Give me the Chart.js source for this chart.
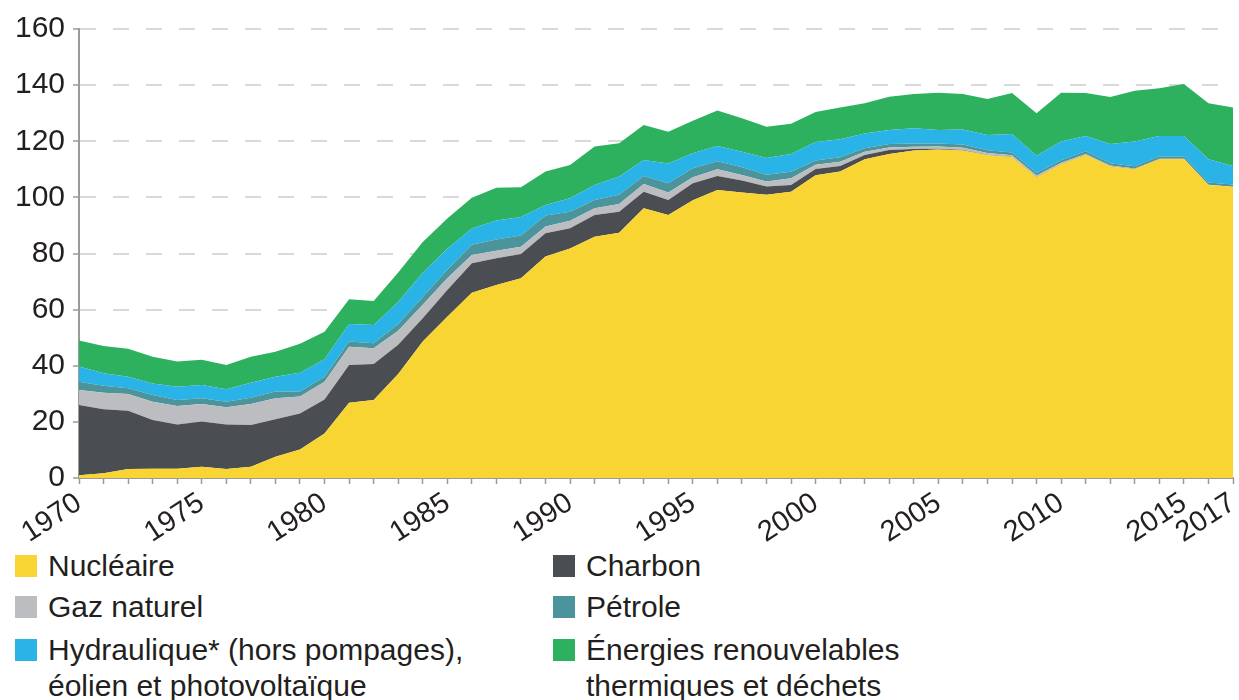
<!DOCTYPE html>
<html lang="fr">
<head>
<meta charset="utf-8">
<title>Production nationale d'énergie primaire</title>
<script src="https://cdn.jsdelivr.net/npm/chart.js@4.4.1/dist/chart.umd.min.js"></script>
<style>
  body { margin: 0; background: #fff; font-family: "Liberation Sans", Arial, sans-serif; color: #231f20; }
  #wrap { position: relative; width: 1239px; height: 700px; }
  #chartBox { position: absolute; left: 0; top: 0; width: 1239px; height: 548px; }
  .item { position: absolute; font-size: 30px; line-height: 36px; }
  .item .sq { position: absolute; left: 0; top: 7px; width: 22px; height: 22px; }
  .item .txt { position: absolute; left: 33px; top: 0; white-space: nowrap; }
</style>
</head>
<body>
<div id="wrap">
  <div id="chartBox"><canvas id="energyChart"></canvas></div>
  <div id="legend"></div>
</div>
<script>
const years = [
  "1970", "1971", "1972", "1973", "1974", "1975", "1976", "1977", "1978", "1979",
  "1980", "1981", "1982", "1983", "1984", "1985", "1986", "1987", "1988", "1989",
  "1990", "1991", "1992", "1993", "1994", "1995", "1996", "1997", "1998", "1999",
  "2000", "2001", "2002", "2003", "2004", "2005", "2006", "2007", "2008", "2009",
  "2010", "2011", "2012", "2013", "2014", "2015", "2016", "2017"
];
const shownYears = ["1970", "1975", "1980", "1985", "1990", "1995", "2000", "2005", "2010", "2015", "2017"];
const yTicks = [0, 20, 40, 60, 80, 100, 120, 140, 160];

const nucleaire = [
  1.0, 1.7, 3.2, 3.3, 3.3, 4.0, 3.2, 4.0, 7.6, 10.2,
  15.9, 26.8, 27.8, 37.1, 48.6, 57.5, 66.0, 68.8, 71.2, 78.9,
  81.8, 86.0, 87.4, 96.1, 93.7, 99.0, 102.6, 101.7, 100.9, 102.0,
  107.9, 109.2, 113.6, 115.5, 116.7, 117.1, 116.7, 115.0, 114.3, 107.2,
  111.8, 115.1, 111.0, 110.0, 113.6, 113.7, 104.4, 103.8
];
const charbon = [
  25.0, 22.8, 20.8, 17.4, 15.8, 16.1, 15.9, 14.9, 13.3, 12.8,
  12.1, 13.5, 12.8, 10.4, 8.3, 9.5, 10.5, 9.5, 8.6, 8.3,
  7.2, 7.7, 7.5, 5.9, 5.4, 6.0, 5.0, 4.3, 3.0, 2.4,
  2.2, 2.0, 1.5, 1.4, 0.5, 0.2, 0.2, 0.1, 0.1, 0.1,
  0.1, 0.1, 0.1, 0.1, 0.1, 0.0, 0.0, 0.0
];
const gazNaturel = [
  5.4, 5.9, 5.9, 6.5, 6.6, 6.3, 6.1, 7.5, 7.5, 6.0,
  6.3, 6.5, 5.6, 5.0, 4.8, 4.2, 3.0, 2.7, 2.6, 2.4,
  2.7, 2.4, 2.7, 2.8, 2.6, 2.2, 2.4, 2.0, 1.8, 2.4,
  1.5, 1.5, 1.2, 0.9, 0.8, 0.8, 0.8, 0.7, 0.6, 0.5,
  0.4, 0.3, 0.3, 0.2, 0.1, 0.1, 0.1, 0.0
];
const petrole = [
  2.9, 2.5, 2.1, 2.4, 2.1, 2.0, 2.0, 2.2, 2.4, 1.8,
  1.8, 1.8, 1.8, 2.4, 2.8, 3.0, 3.6, 4.0, 4.0, 3.9,
  3.2, 3.0, 3.3, 2.8, 3.3, 3.2, 2.9, 2.7, 2.4, 2.3,
  1.5, 1.6, 1.2, 1.2, 1.2, 1.1, 1.1, 1.0, 1.0, 0.9,
  0.9, 0.9, 0.8, 0.8, 0.8, 0.8, 0.8, 0.8
];
const hydraulique = [
  5.4, 4.4, 4.1, 4.1, 4.7, 4.7, 4.4, 5.3, 5.3, 6.7,
  6.2, 6.3, 6.5, 7.8, 8.6, 7.5, 5.8, 6.8, 6.6, 3.8,
  4.8, 5.3, 6.5, 5.7, 7.1, 5.3, 5.4, 5.6, 5.9, 6.4,
  6.6, 6.4, 5.3, 5.0, 5.4, 4.8, 5.4, 5.4, 6.6, 6.1,
  6.7, 5.5, 6.8, 8.8, 7.3, 7.3, 8.3, 6.6
];
const renouvelables = [
  9.3, 9.7, 10.0, 9.5, 9.0, 9.0, 8.7, 9.3, 8.9, 10.3,
  9.8, 8.8, 8.6, 10.5, 11.0, 10.8, 11.0, 11.6, 10.6, 11.9,
  11.8, 13.7, 11.9, 12.5, 11.3, 11.6, 12.7, 11.9, 11.2, 10.7,
  10.7, 11.3, 10.7, 11.9, 12.2, 13.3, 12.6, 12.9, 14.6, 15.2,
  17.4, 15.3, 16.8, 18.1, 17.0, 18.5, 19.9, 20.8
];

const series = [
  { label: "Nucléaire", data: nucleaire, color: "#f8d532" },
  { label: "Charbon", data: charbon, color: "#4a4d51" },
  { label: "Gaz naturel", data: gazNaturel, color: "#bcbdc1" },
  { label: "Pétrole", data: petrole, color: "#4b949b" },
  { label: "Hydraulique* (hors pompages),\néolien et photovoltaïque", data: hydraulique, color: "#29b3e6" },
  { label: "Énergies renouvelables\nthermiques et déchets", data: renouvelables, color: "#2eb15f" }
];

// legend placement: two columns, same order as the reference
const legendSpots = [
  { i: 0, left: 15, top: 548 },
  { i: 1, left: 553, top: 548 },
  { i: 2, left: 15, top: 589 },
  { i: 3, left: 553, top: 589 },
  { i: 4, left: 15, top: 632 },
  { i: 5, left: 553, top: 632 }
];

const legendBox = document.querySelector("#legend");
legendSpots.forEach((spot) => {
  const s = series[spot.i];
  const div = document.createElement("div");
  div.className = "item";
  div.style.left = spot.left + "px";
  div.style.top = spot.top + "px";
  div.innerHTML = `<span class="sq" style="background:${s.color}"></span><span class="txt">${s.label.replace("\n", "<br>")}</span>`;
  legendBox.appendChild(div);
});

const axisColor = "#9a9a9a";
const fontFamily = "'Liberation Sans', Arial, sans-serif";

new Chart(document.querySelector("#energyChart"), {
  type: "line",
  data: {
    labels: years,
    datasets: series.map((s, idx) => ({
      label: s.label,
      data: s.data,
      backgroundColor: s.color,
      borderWidth: 0,
      pointRadius: 0,
      tension: 0,
      fill: idx === 0 ? "origin" : "-1"
    }))
  },
  options: {
    responsive: true,
    maintainAspectRatio: false,
    animation: false,
    layout: { padding: { top: 29, right: 6, left: 0, bottom: 0 } },
    plugins: {
      legend: { display: false },
      tooltip: { enabled: false }
    },
    scales: {
      x: {
        offset: false,
        afterFit: (scale) => {
          scale.height = 70;
          scale.paddingLeft = 0;
          scale.paddingRight = 0;
        },
        grid: {
          drawOnChartArea: false,
          drawTicks: true,
          tickLength: 6,
          tickColor: axisColor,
          tickWidth: 1.5
        },
        border: { color: axisColor, width: 2 },
        ticks: {
          autoSkip: false,
          maxRotation: 33,
          minRotation: 33,
          padding: 2,
          color: "#231f20",
          font: { family: fontFamily, size: 29 },
          callback: (value, index) => (shownYears.includes(years[index]) ? years[index] : "")
        }
      },
      y: {
        stacked: true,
        min: yTicks[0],
        max: yTicks[yTicks.length - 1],
        afterFit: (scale) => { scale.width = 79; },
        afterBuildTicks: (scale) => { scale.ticks = yTicks.map((v) => ({ value: v })); },
        grid: {
          color: "#d9d9d9",
          lineWidth: 2,
          drawTicks: true,
          tickLength: 6,
          tickColor: axisColor,
          tickWidth: 1.5,
          tickBorderDash: []
        },
        border: { color: axisColor, width: 2, dash: [16, 17] },
        ticks: {
          padding: 8,
          color: "#231f20",
          font: { family: fontFamily, size: 30 }
        }
      }
    }
  }
});
</script>
</body>
</html>
